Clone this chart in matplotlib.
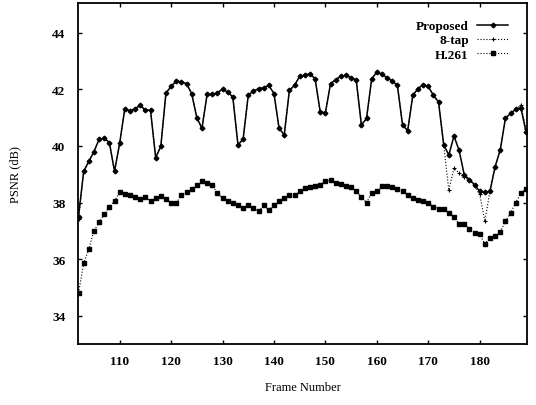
import matplotlib
matplotlib.use("Agg")
import matplotlib.pyplot as plt
import numpy as np

frames = list(range(102, 190))

proposed = [37.5, 39.1, 39.45, 39.8, 40.23, 40.27, 40.12, 39.1, 40.09,
            41.32, 41.23, 41.32, 41.43, 41.26, 41.26, 39.59, 39.98, 41.87,
            42.1, 42.29, 42.26, 42.2, 41.85, 41.0, 40.62, 41.82, 41.82,
            41.87, 42.01, 41.9, 41.73, 40.04, 40.23, 41.79, 41.94, 42.02,
            42.06, 42.14, 41.85, 40.62, 40.39, 41.96, 42.14, 42.46, 42.5,
            42.55, 42.37, 41.2, 41.17, 42.2, 42.34, 42.46, 42.49, 42.41,
            42.32, 40.74, 40.97, 42.37, 42.61, 42.53, 42.41, 42.29, 42.14,
            40.74, 40.54, 41.79, 42.02, 42.17, 42.1, 41.79, 41.55, 40.04,
            39.68, 40.35, 39.84, 38.98, 38.81, 38.63, 38.4, 38.36, 38.4,
            39.27, 39.86, 40.97, 41.15, 41.29, 41.35, 40.5]

eight_tap = [37.4, 39.1, 39.45, 39.8, 40.23, 40.27, 40.12, 39.1, 40.09,
             41.32, 41.23, 41.32, 41.43, 41.26, 41.26, 39.59, 39.98, 41.87,
             42.1, 42.29, 42.26, 42.2, 41.85, 41.0, 40.62, 41.82, 41.82,
             41.87, 42.01, 41.9, 41.73, 40.04, 40.23, 41.79, 41.94, 42.02,
             42.06, 42.14, 41.85, 40.62, 40.39, 41.96, 42.14, 42.46, 42.5,
             42.55, 42.37, 41.2, 41.17, 42.2, 42.34, 42.46, 42.49, 42.41,
             42.32, 40.74, 40.97, 42.37, 42.61, 42.53, 42.41, 42.29, 42.14,
             40.74, 40.54, 41.79, 42.02, 42.17, 42.1, 41.79, 41.55, 40.04,
             38.43, 39.22, 39.04, 38.9, 38.78, 38.6, 38.3, 37.34, 38.4,
             39.27, 39.86, 40.97, 41.15, 41.29, 41.44, 40.6]

h261 = [34.8, 35.85, 36.35, 37.0, 37.3, 37.58, 37.85, 38.05, 38.36,
        38.3, 38.25, 38.2, 38.13, 38.2, 38.05, 38.15, 38.22, 38.13,
        37.98, 37.97, 38.28, 38.36, 38.48, 38.63, 38.75, 38.7, 38.62,
        38.32, 38.16, 38.05, 37.99, 37.92, 37.81, 37.9, 37.81, 37.69,
        37.9, 37.72, 37.92, 38.05, 38.16, 38.25, 38.25, 38.4, 38.5,
        38.55, 38.57, 38.63, 38.75, 38.8, 38.7, 38.65, 38.59, 38.54,
        38.39, 38.2, 37.99, 38.34, 38.39, 38.57, 38.57, 38.54, 38.48,
        38.39, 38.27, 38.16, 38.08, 38.04, 37.99, 37.85, 37.78, 37.76,
        37.64, 37.5, 37.23, 37.23, 37.08, 36.94, 36.88, 36.53, 36.76,
        36.8, 36.96, 37.34, 37.63, 37.99, 38.32, 38.48]

x_ticks = [110, 120, 130, 140, 150, 160, 170, 180]
y_ticks = [34, 36, 38, 40, 42, 44]

serif = ["Liberation Serif", "DejaVu Serif"]
plt.rcParams["font.family"] = serif

fig = plt.figure(figsize=(5.36, 4.06), dpi=100)
ax = fig.add_axes([78 / 536, 1 - 345 / 406, (527 - 78) / 536, (345 - 4) / 406])

ax.plot(frames, h261, linestyle=":", color="black", linewidth=0.8,
        marker="s", markersize=3.4, markerfacecolor="black",
        markeredgecolor="black", label="H.261")
ax.plot(frames, eight_tap, linestyle=":", color="black", linewidth=0.8,
        marker="+", markersize=3, markeredgewidth=0.8, label="8-tap")
ax.plot(frames, proposed, linestyle="-", color="black", linewidth=1.1,
        marker="D", markersize=2.4, label="Proposed")

ax.set_xlim(101.9, 189.2)
ax.set_ylim(33.0, 45.05)
ax.set_xticks(x_ticks)
ax.set_yticks(y_ticks)
ax.tick_params(direction="in", length=3, width=1, top=True, right=True,
               labelsize=9.5, pad=9)
ax.tick_params(axis="x", pad=8)
for lab in ax.get_xticklabels() + ax.get_yticklabels():
    lab.set_fontweight("bold")
for s in ax.spines.values():
    s.set_linewidth(1.3)

ax.set_xlabel("Frame Number", fontsize=9, labelpad=10)
ax.set_ylabel("PSNR (dB)", fontsize=9, labelpad=22)

handles, labels = ax.get_legend_handles_labels()
order = [2, 1, 0]
leg = ax.legend([handles[i] for i in order], [labels[i] for i in order],
                loc="upper right", bbox_to_anchor=(0.985, 0.985),
                frameon=False, markerfirst=False, handlelength=2.4,
                handletextpad=0.6, labelspacing=0.15,
                prop={"family": serif, "weight": "bold", "size": 9.5})

fig.savefig("out.png", dpi=100)
